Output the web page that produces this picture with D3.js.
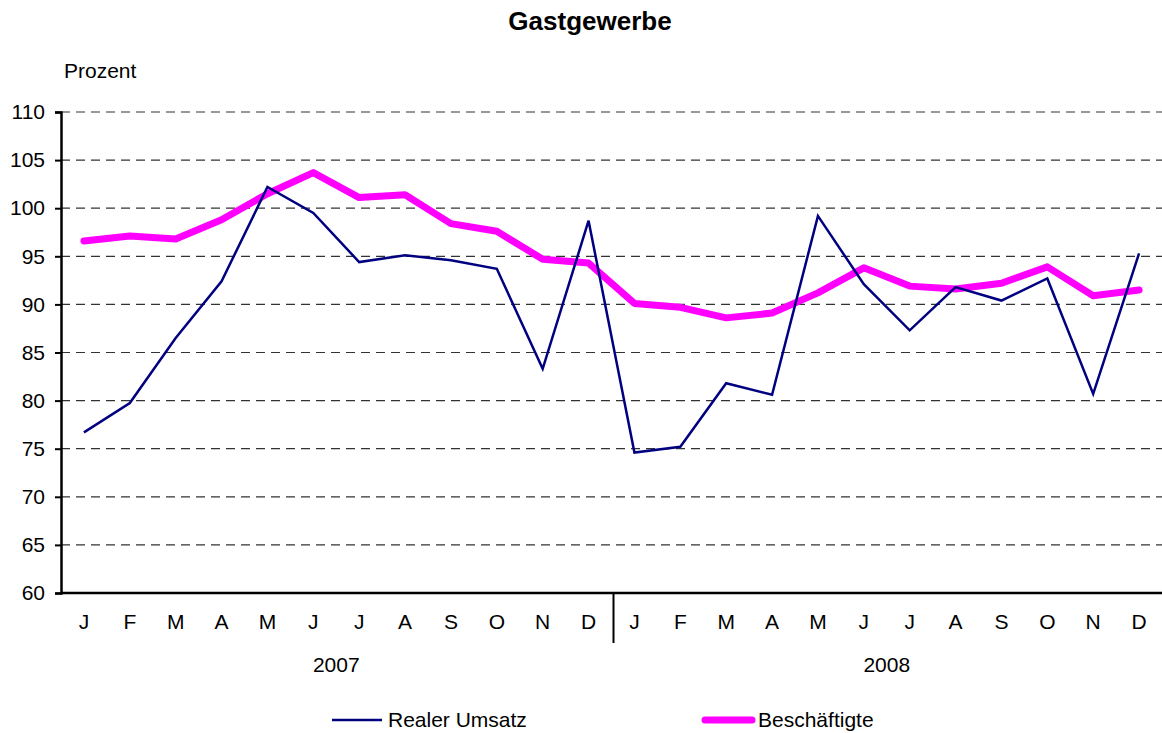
<!DOCTYPE html>
<html>
<head>
<meta charset="utf-8">
<script src="https://cdn.jsdelivr.net/npm/d3@7"></script>
<style>
  body { margin: 0; background: #fff; }
  text { font-family: "Liberation Sans", Arial, sans-serif; }
</style>
</head>
<body>
<div class="chart"></div>
<script>
var months = ['J','F','M','A','M','J','J','A','S','O','N','D','J','F','M','A','M','J','J','A','S','O','N','D'];
var years = ['2007', '2008'];
var umsatz = [76.7, 79.75, 86.5, 92.4, 102.2, 99.5, 94.4, 95.1, 94.6, 93.7, 83.3, 98.7,
              74.6, 75.2, 81.8, 80.6, 99.2, 92.1, 87.3, 91.8, 90.4, 92.7, 80.7, 95.3];
var beschaeftigte = [96.6, 97.1, 96.8, 98.8, 101.5, 103.7, 101.1, 101.4, 98.4, 97.6, 94.7, 94.3,
                     90.1, 89.7, 88.6, 89.1, 91.2, 93.8, 91.9, 91.6, 92.2, 93.9, 90.9, 91.5];
var yTicks = [60, 65, 70, 75, 80, 85, 90, 95, 100, 105, 110];

var W = 1162, H = 733;
var m = { left: 61, right: 0, top: 112, bottom: 140 };

var svg = d3.select('.chart')
  .append('svg')
  .attr('width', W)
  .attr('height', H);

var x = d3.scaleBand()
  .domain(d3.range(months.length))
  .range([m.left, W - m.right]);

var y = d3.scaleLinear()
  .domain([60, 110])
  .range([H - m.bottom, m.top]);

// title
svg.append('text').text('Gastgewerbe')
  .attr('x', 590).attr('y', 30)
  .attr('text-anchor', 'middle')
  .attr('font-weight', 'bold')
  .attr('font-size', 26);

svg.append('text').text('Prozent')
  .attr('x', 64).attr('y', 78)
  .attr('font-size', 21);

// grid
svg.append('g').selectAll('line')
  .data(yTicks.filter(function(d) { return d > 60; }))
  .enter().append('line')
  .attr('x1', m.left).attr('x2', W - m.right)
  .attr('y1', function(d) { return y(d); })
  .attr('y2', function(d) { return y(d); })
  .attr('stroke', '#333')
  .attr('stroke-width', 1.2)
  .attr('stroke-dasharray', '9,6');

// y axis
var yAxis = d3.axisLeft(y).tickValues(yTicks).tickSize(6).tickPadding(10);
var gy = svg.append('g')
  .attr('transform', 'translate(' + m.left + ',0)')
  .call(yAxis);
gy.select('.domain').attr('stroke', '#000').attr('stroke-width', 2.5);
gy.selectAll('.tick line').attr('stroke', '#000').attr('stroke-width', 2);
gy.selectAll('.tick text').attr('font-size', 21).attr('fill', '#000')
  .style('font-family', '"Liberation Sans", Arial, sans-serif');

// x axis line
svg.append('line')
  .attr('x1', m.left).attr('x2', W)
  .attr('y1', y(60)).attr('y2', y(60))
  .attr('stroke', '#000').attr('stroke-width', 2.5);

// year separator
svg.append('line')
  .attr('x1', x(12) + 2).attr('x2', x(12) + 2)
  .attr('y1', y(60)).attr('y2', y(60) + 50)
  .attr('stroke', '#000').attr('stroke-width', 2);

svg.append('g').selectAll('text')
  .data(months)
  .enter().append('text')
  .text(function(d) { return d; })
  .attr('x', function(d, i) { return x(i) + x.bandwidth() / 2; })
  .attr('y', y(60) + 36)
  .attr('text-anchor', 'middle')
  .attr('font-size', 21);

svg.append('g').selectAll('text')
  .data(years)
  .enter().append('text')
  .text(function(d) { return d; })
  .attr('x', function(d, i) { return x(i * 12 + 6); })
  .attr('y', y(60) + 79)
  .attr('text-anchor', 'middle')
  .attr('font-size', 21);

var line = d3.line()
  .x(function(d, i) { return x(i) + x.bandwidth() / 2; })
  .y(function(d) { return y(d); });

svg.append('path')
  .datum(beschaeftigte)
  .attr('d', line)
  .attr('fill', 'none')
  .attr('stroke', '#ff00ff')
  .attr('stroke-width', 7)
  .attr('stroke-linejoin', 'round')
  .attr('stroke-linecap', 'round');

svg.append('path')
  .datum(umsatz)
  .attr('d', line)
  .attr('fill', 'none')
  .attr('stroke', '#000080')
  .attr('stroke-width', 2.5);

// legend
var legend = [
  { name: 'Realer Umsatz', color: '#000080', w: 2.5, x: 332, len: 50 },
  { name: 'Beschäftigte', color: '#ff00ff', w: 7, x: 705, len: 47 }
];
var lg = svg.append('g').selectAll('g')
  .data(legend)
  .enter().append('g')
  .attr('transform', function(d) { return 'translate(' + d.x + ',720)'; });
lg.append('line')
  .attr('x1', 0).attr('x2', function(d) { return d.len; })
  .attr('stroke', function(d) { return d.color; })
  .attr('stroke-width', function(d) { return d.w; })
  .attr('stroke-linecap', function(d) { return d.w > 3 ? 'round' : 'butt'; });
lg.append('text')
  .text(function(d) { return d.name; })
  .attr('x', function(d) { return d.len + (d.w > 3 ? 6 : 6); })
  .attr('y', 7)
  .attr('font-size', 21);
</script>
</body>
</html>
